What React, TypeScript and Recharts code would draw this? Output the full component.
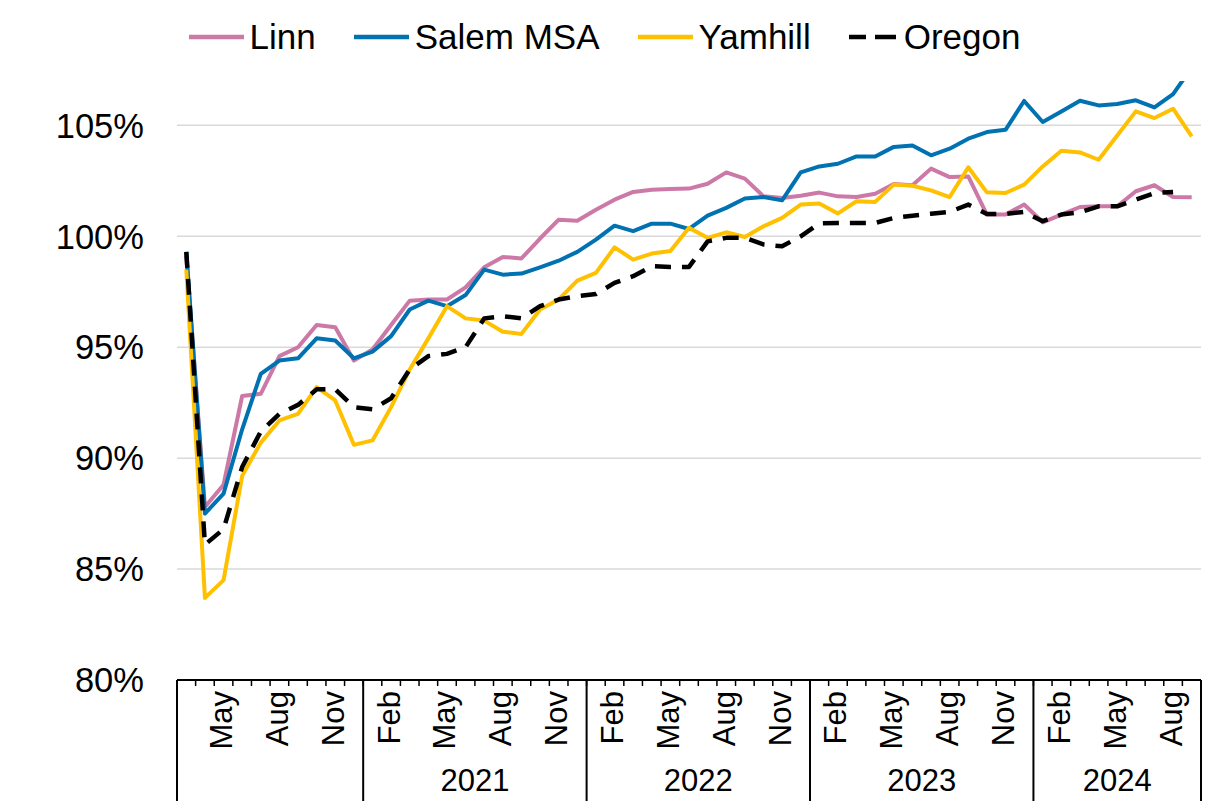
import React from 'react';
import { LineChart, Line, XAxis, YAxis, CartesianGrid, Legend } from 'recharts';

const periods = [
  'Mar 2020', 'Apr 2020', 'May 2020', 'Jun 2020', 'Jul 2020', 'Aug 2020', 'Sep 2020', 'Oct 2020', 'Nov 2020', 'Dec 2020',
  'Jan 2021', 'Feb 2021', 'Mar 2021', 'Apr 2021', 'May 2021', 'Jun 2021', 'Jul 2021', 'Aug 2021', 'Sep 2021', 'Oct 2021', 'Nov 2021', 'Dec 2021',
  'Jan 2022', 'Feb 2022', 'Mar 2022', 'Apr 2022', 'May 2022', 'Jun 2022', 'Jul 2022', 'Aug 2022', 'Sep 2022', 'Oct 2022', 'Nov 2022', 'Dec 2022',
  'Jan 2023', 'Feb 2023', 'Mar 2023', 'Apr 2023', 'May 2023', 'Jun 2023', 'Jul 2023', 'Aug 2023', 'Sep 2023', 'Oct 2023', 'Nov 2023', 'Dec 2023',
  'Jan 2024', 'Feb 2024', 'Mar 2024', 'Apr 2024', 'May 2024', 'Jun 2024', 'Jul 2024', 'Aug 2024', 'Sep 2024',
];

const linn = [
  99.1, 87.8, 88.8, 92.8, 92.9, 94.6, 95.0, 96.0, 95.9, 94.4,
  94.9, 96.0, 97.1, 97.15, 97.15, 97.7, 98.6, 99.07, 99.0, 99.9, 100.75, 100.7,
  101.2, 101.65, 102.0, 102.1, 102.13, 102.15, 102.37, 102.88, 102.6, 101.8, 101.73, 101.83,
  101.97, 101.8, 101.77, 101.92, 102.36, 102.3, 103.05, 102.67, 102.7, 100.98, 100.98, 101.43,
  100.63, 100.98, 101.32, 101.35, 101.35, 102.03, 102.3, 101.77, 101.76,
];

const salem = [
  99.3, 87.5, 88.4, 91.3, 93.8, 94.4, 94.5, 95.4, 95.3, 94.5,
  94.8, 95.5, 96.7, 97.1, 96.85, 97.35, 98.5, 98.27, 98.32, 98.6, 98.9, 99.3,
  99.85, 100.48, 100.23, 100.57, 100.57, 100.33, 100.93, 101.28, 101.7, 101.77, 101.62, 102.88,
  103.15, 103.27, 103.6, 103.6, 104.03, 104.09, 103.65, 103.95, 104.4, 104.7, 104.8, 106.1,
  105.15, 105.63, 106.11, 105.9, 105.96, 106.13, 105.81, 106.41, 107.6,
];

const yamhill = [
  98.5, 83.7, 84.5, 89.2, 90.7, 91.7, 92.0, 93.2, 92.6, 90.6,
  90.8, 92.3, 94.0, 95.4, 96.85, 96.3, 96.2, 95.7, 95.6, 96.7, 97.15, 98.0,
  98.35, 99.5, 98.95, 99.22, 99.34, 100.38, 99.93, 100.18, 99.97, 100.45, 100.83, 101.43,
  101.48, 101.03, 101.58, 101.55, 102.33, 102.28, 102.07, 101.77, 103.11, 101.98, 101.95, 102.33,
  103.15, 103.86, 103.78, 103.45, 104.54, 105.63, 105.33, 105.75, 104.5,
];

const oregon = [
  99.3, 86.1, 86.8, 89.6, 91.2, 92.0, 92.4, 93.1, 93.1, 92.3,
  92.2, 92.7, 94.0, 94.6, 94.7, 95.0, 96.3, 96.4, 96.3, 96.85, 97.15, 97.3,
  97.4, 97.9, 98.2, 98.65, 98.62, 98.62, 99.77, 99.93, 99.93, 99.63, 99.55, 100.0,
  100.58, 100.6, 100.6, 100.6, 100.83, 100.93, 101.02, 101.1, 101.43, 101.01, 101.01, 101.1,
  100.68, 100.98, 101.08, 101.35, 101.35, 101.65, 101.95, 102.0, null,
];

const yTicks = [80, 85, 90, 95, 100, 105];
const shownMonths = ['Feb', 'May', 'Aug', 'Nov'];
const yearLabels = ['2021', '2022', '2023', '2024'];

const series = [
  { key: 'linn', name: 'Linn', color: '#CC79A7', dash: undefined },
  { key: 'salem', name: 'Salem MSA', color: '#0072B2', dash: undefined },
  { key: 'yamhill', name: 'Yamhill', color: '#FFC000', dash: undefined },
  { key: 'oregon', name: 'Oregon', color: '#000000', dash: '16 11' },
];

const data = periods.map((period, i) => ({
  period,
  linn: linn[i],
  salem: salem[i],
  yamhill: yamhill[i],
  oregon: oregon[i],
}));

const FONT = '"Liberation Sans", Arial, sans-serif';
const W = 1203;
const H = 795;
const Y_AXIS_W = 169;
const X_AXIS_H = 123;
const RIGHT = 10;
const PAD = 9.31;
const PLOT_W = W - Y_AXIS_W - RIGHT;
const STEP = (PLOT_W - 2 * PAD) / (periods.length - 1);

// year groups: first/last index for each calendar year
const groups: { year: string; first: number; last: number }[] = [];
periods.forEach((p, i) => {
  const yr = p.split(' ')[1];
  const g = groups[groups.length - 1];
  if (g && g.year === yr) g.last = i;
  else groups.push({ year: yr, first: i, last: i });
});

const XTick = (props: any) => {
  const { x, y, index } = props;
  const [mon, yr] = periods[index].split(' ');
  const left = x - STEP / 2;
  const right = x + STEP / 2;
  const isLast = index === periods.length - 1;
  const g = groups.find((gr) => gr.year === yr)!;
  const mid = (g.first + g.last) / 2;
  const showYear = yearLabels.includes(yr) && index === Math.floor(mid);
  return (
    <g>
      <line x1={left} x2={left} y1={y} y2={y + 6} stroke="#000" strokeWidth={1.5} />
      {(mon === 'Jan' || index === 0) && (
        <line x1={left} x2={left} y1={y} y2={y + 121} stroke="#000" strokeWidth={2} />
      )}
      {isLast && <line x1={right} x2={right} y1={y} y2={y + 121} stroke="#000" strokeWidth={2} />}
      {shownMonths.includes(mon) && (
        <text
          transform={`translate(${x - 2},${y + 11}) rotate(-90)`}
          textAnchor="end"
          dominantBaseline="central"
          fontSize={31}
          fontFamily={FONT}
          fill="#000"
        >
          {mon}
        </text>
      )}
      {showYear && (
        <text
          x={x + (mid - index) * STEP}
          y={y + 100}
          textAnchor="middle"
          dominantBaseline="central"
          fontSize={31}
          fontFamily={FONT}
          fill="#000"
        >
          {yr}
        </text>
      )}
    </g>
  );
};

const renderLegend = () => (
  <div
    style={{
      height: 73,
      boxSizing: 'border-box',
      paddingTop: 9,
      display: 'flex',
      justifyContent: 'center',
      alignItems: 'flex-start',
      fontFamily: FONT,
      fontSize: 35,
      color: '#000',
    }}
  >
    {series.map((s, i) => {
      const lw = s.dash ? 47 : 55;
      return (
        <div key={s.key} style={{ display: 'flex', alignItems: 'center', marginLeft: i === 0 ? 0 : 38 }}>
          <svg width={lw} height={10} style={{ marginRight: s.dash ? 8 : 6 }}>
            <line
              x1={0}
              x2={lw}
              y1={5}
              y2={5}
              stroke={s.color}
              strokeWidth={4.5}
              strokeDasharray={s.dash ? '17 9 21 9' : undefined}
            />
          </svg>
          <span>{s.name}</span>
        </div>
      );
    })}
  </div>
);

export default function App() {
  return (
    <LineChart width={W} height={H} data={data} margin={{ top: 0, right: RIGHT, left: 0, bottom: 0 }}>
      <CartesianGrid vertical={false} horizontalValues={yTicks} stroke="#D9D9D9" strokeWidth={1.5} />
      <Legend verticalAlign="top" content={renderLegend} />
      <XAxis
        dataKey="period"
        interval={0}
        height={X_AXIS_H}
        padding={{ left: PAD, right: PAD }}
        tickLine={false}
        tickSize={0}
        tickMargin={0}
        axisLine={{ stroke: '#000', strokeWidth: 2 }}
        tick={XTick}
      />
      <YAxis
        width={Y_AXIS_W}
        domain={[80, 107]}
        allowDataOverflow
        ticks={yTicks}
        tickFormatter={(v) => `${v}%`}
        axisLine={false}
        tickLine={false}
        tickSize={0}
        tickMargin={33}
        tick={{ fontSize: 34.5, fontFamily: FONT, fill: '#000' }}
      />
      {series.map((s) => (
        <Line
          key={s.key}
          type="linear"
          dataKey={s.key}
          name={s.name}
          stroke={s.color}
          strokeWidth={s.dash ? 4.5 : 4}
          strokeDasharray={s.dash}
          strokeLinejoin="round"
          dot={false}
          activeDot={false}
          isAnimationActive={false}
        />
      ))}
    </LineChart>
  );
}
